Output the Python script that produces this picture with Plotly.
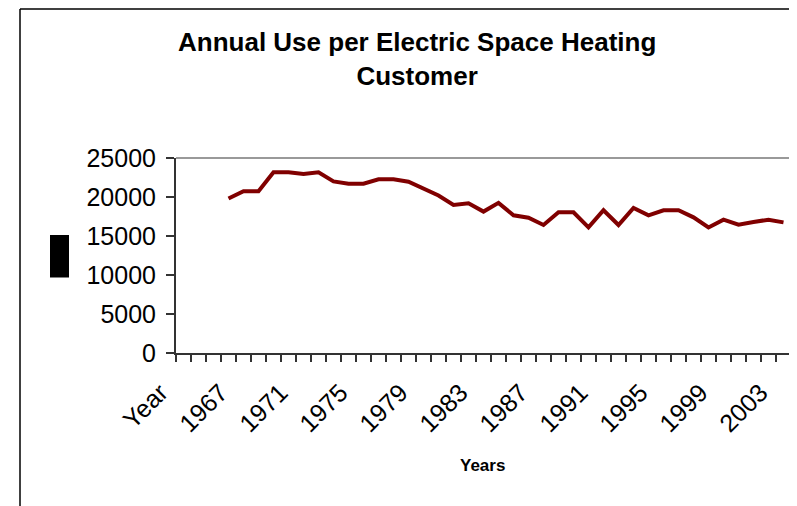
import plotly.graph_objects as go

categories = ["Year"] + [str(y) for y in range(1964, 2004)]
usage = [None, None, None,
         19800, 20750, 20750, 23170, 23170, 22950, 23170, 22000, 21700, 21700,
         22260, 22260, 21960, 21140, 20190, 18990, 19200, 18130, 19250, 17650,
         17350, 16410, 18040, 18040, 16100, 18300, 16410, 18600, 17650, 18300,
         18300, 17390, 16100, 17090, 16450, 16800, 17090, 16750]
label_step = 4
y_ticks = [0, 5000, 10000, 15000, 20000, 25000]
y_tick_text = [str(v) for v in y_ticks]

xpos = list(range(len(categories)))
FONT = "Arial, Liberation Sans, sans-serif"

fig = go.Figure()
fig.add_trace(go.Scatter(
    x=xpos, y=usage, mode="lines",
    line=dict(color="#800000", width=4),
    connectgaps=False, showlegend=False, hoverinfo="skip",
))

# page body margin offset (8px) compensated
OFF = 8
W, H = 797 - OFF, 506 - OFF
L, R, T, B = 176 - OFF, 6, 158 - OFF, 153
pw, ph = W - L - R, H - T - B

def px_x(p):
    return (p - OFF - L) / pw

def px_y(p):
    return (H - B - (p - OFF)) / ph

fig.update_layout(
    width=W, height=H,
    margin=dict(l=L, r=R, t=T, b=B),
    paper_bgcolor="white", plot_bgcolor="white",
    font=dict(family=FONT, color="black"),
    xaxis=dict(
        range=[-0.5, len(categories) - 0.5],
        tickvals=xpos[::label_step], ticktext=categories[::label_step],
        tickangle=-45, ticks="", showgrid=False, zeroline=False,
        tickfont=dict(size=25, family=FONT, color="black"),
        showline=True, linecolor="#333333", linewidth=2,
        minor=dict(tick0=-0.5, dtick=1, ticks="outside", ticklen=7,
                   tickcolor="#333333", tickwidth=1.5, showgrid=False),
        ticklabelshift=-23, ticklabelstandoff=13,
    ),
    yaxis=dict(
        range=[0, 25000], tickvals=y_ticks, ticktext=y_tick_text,
        ticks="outside", ticklen=8, tickcolor="#333333", tickwidth=1.5,
        showgrid=False, zeroline=False,
        showline=True, linecolor="#333333", linewidth=2,
        tickfont=dict(size=25, family=FONT, color="black"),
        ticklabelstandoff=5,
    ),
    shapes=[
        dict(type="line", xref="paper", yref="paper", x0=0, x1=1, y0=1, y1=1,
             line=dict(color="#999999", width=2)),
        dict(type="line", xref="paper", yref="paper", x0=1, x1=1, y0=0, y1=1,
             line=dict(color="#999999", width=2)),
        dict(type="line", xref="paper", yref="paper", x0=px_x(20), x1=px_x(20),
             y0=px_y(9), y1=px_y(520), line=dict(color="black", width=1.5)),
        dict(type="line", xref="paper", yref="paper", x0=px_x(20), x1=px_x(820),
             y0=px_y(9), y1=px_y(9), line=dict(color="black", width=1.5)),
        dict(type="rect", xref="paper", yref="paper", x0=px_x(50), x1=px_x(69),
             y0=px_y(277.5), y1=px_y(235), fillcolor="black",
             line=dict(width=0)),
    ],
    annotations=[
        dict(text="<b>Annual Use per Electric Space Heating<br>Customer</b>",
             xref="paper", yref="paper", x=px_x(416.5), y=px_y(59),
             xanchor="center", yanchor="middle", showarrow=False,
             font=dict(size=26, family=FONT, color="black")),
        dict(text="<b>Years</b>", xref="paper", yref="paper",
             x=px_x(482), y=px_y(465), xanchor="center", yanchor="middle",
             showarrow=False, font=dict(size=17, family=FONT, color="black")),
    ],
)

fig.write_html("out.html")
